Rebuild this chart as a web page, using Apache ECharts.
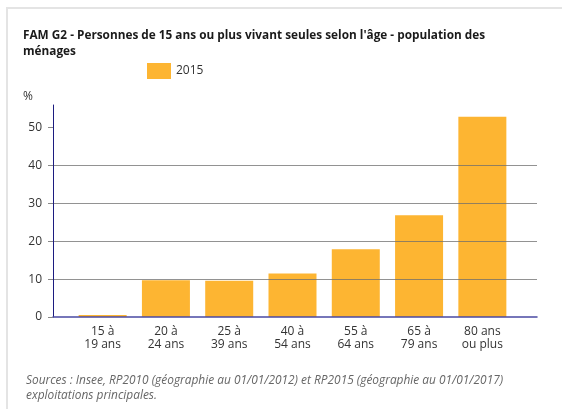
<!DOCTYPE html>
<html>
<head>
<meta charset="utf-8">
<script src="https://cdn.jsdelivr.net/npm/echarts@6/dist/echarts.min.js"></script>
<style>
  html, body { margin: 0; padding: 0; background: #fff; }
  #chart { width: 562px; height: 409px; }
</style>
</head>
<body>
<div id="chart"></div>
<script>
const categories = ['15 à\n19 ans', '20 à\n24 ans', '25 à\n39 ans', '40 à\n54 ans', '55 à\n64 ans', '65 à\n79 ans', '80 ans\nou plus']
const values2015 = [0.5, 9.7, 9.6, 11.5, 17.9, 26.9, 52.9]
const yTicks = [0, 10, 20, 30, 40, 50]

const titleText = "FAM G2 - Personnes de 15 ans ou plus vivant seules selon l'âge - population des\nménages"
const sourceText = 'Sources : Insee, RP2010 (géographie au 01/01/2012) et RP2015 (géographie au 01/01/2017)\nexploitations principales.'

const font = '"Open Sans", "Noto Sans", sans-serif'
const chart = echarts.init(document.getElementById('chart'), null, { renderer: 'canvas' })

const option = {
  animation: false,
  textStyle: { fontFamily: font },
  graphic: [
    {
      // light frame around the figure
      type: 'polyline',
      shape: { points: [[7, 409], [7, 8], [562, 8]] },
      style: { stroke: '#e4e4e4', lineWidth: 2, fill: null },
      silent: true
    }
  ],
  title: [
    {
      text: titleText,
      left: 18,
      top: 23,
      textStyle: { fontFamily: font, fontSize: 11.8, fontWeight: 'bold', color: '#1a1a1a', lineHeight: 16 }
    },
    {
      text: '%',
      left: 18,
      top: 86,
      textStyle: { fontFamily: font, fontSize: 12, fontWeight: 'normal', color: '#333' }
    },
    {
      text: sourceText,
      left: 21,
      top: 368,
      textStyle: { fontFamily: font, fontSize: 11.9, fontWeight: 'normal', fontStyle: 'italic', color: '#666', lineHeight: 15 }
    }
  ],
  legend: {
    left: 142,
    top: 58,
    itemWidth: 24,
    itemHeight: 16,
    itemGap: 8,
    icon: 'rect',
    textStyle: { fontFamily: font, fontSize: 12, color: '#333' },
    data: ['2015']
  },
  grid: [
    { left: 53, right: 25, top: 105, bottom: 92 },
    { left: 71, right: 48, top: 105, bottom: 92 }
  ],
  xAxis: [
    {
      gridIndex: 0,
      type: 'value',
      min: 0,
      max: 1,
      zlevel: 1,
      axisLine: { show: true, onZero: false, lineStyle: { color: '#4a4aa2', width: 1.5 } },
      axisTick: { show: false },
      axisLabel: { show: false },
      splitLine: { show: false }
    },
    {
      gridIndex: 1,
      type: 'category',
      data: categories,
      axisLine: { show: false },
      axisTick: { show: false },
      axisLabel: { fontFamily: font, fontSize: 12, color: '#333', lineHeight: 13, margin: 8, interval: 0 }
    }
  ],
  yAxis: [
    {
      gridIndex: 0,
      type: 'value',
      min: 0,
      max: 56,
      interval: 10,
      zlevel: 1,
      axisLine: { show: true, lineStyle: { color: '#1c1c80', width: 1 } },
      axisTick: { show: true, length: 5, customValues: yTicks, lineStyle: { color: '#888' } },
      axisLabel: { customValues: yTicks, fontFamily: font, fontSize: 12, color: '#333', margin: 11 },
      splitLine: { show: true, showMinLine: false, showMaxLine: false, lineStyle: { color: 'rgba(110,110,110,0.75)', width: 1 } }
    },
    {
      gridIndex: 1,
      type: 'value',
      min: 0,
      max: 56,
      show: false,
      splitLine: { show: false }
    }
  ],
  series: [
    {
      name: '2015',
      type: 'bar',
      xAxisIndex: 1,
      yAxisIndex: 1,
      barWidth: 48,
      itemStyle: { color: '#fdb532' },
      data: values2015
    }
  ]
}

chart.setOption(option)
</script>
</body>
</html>
